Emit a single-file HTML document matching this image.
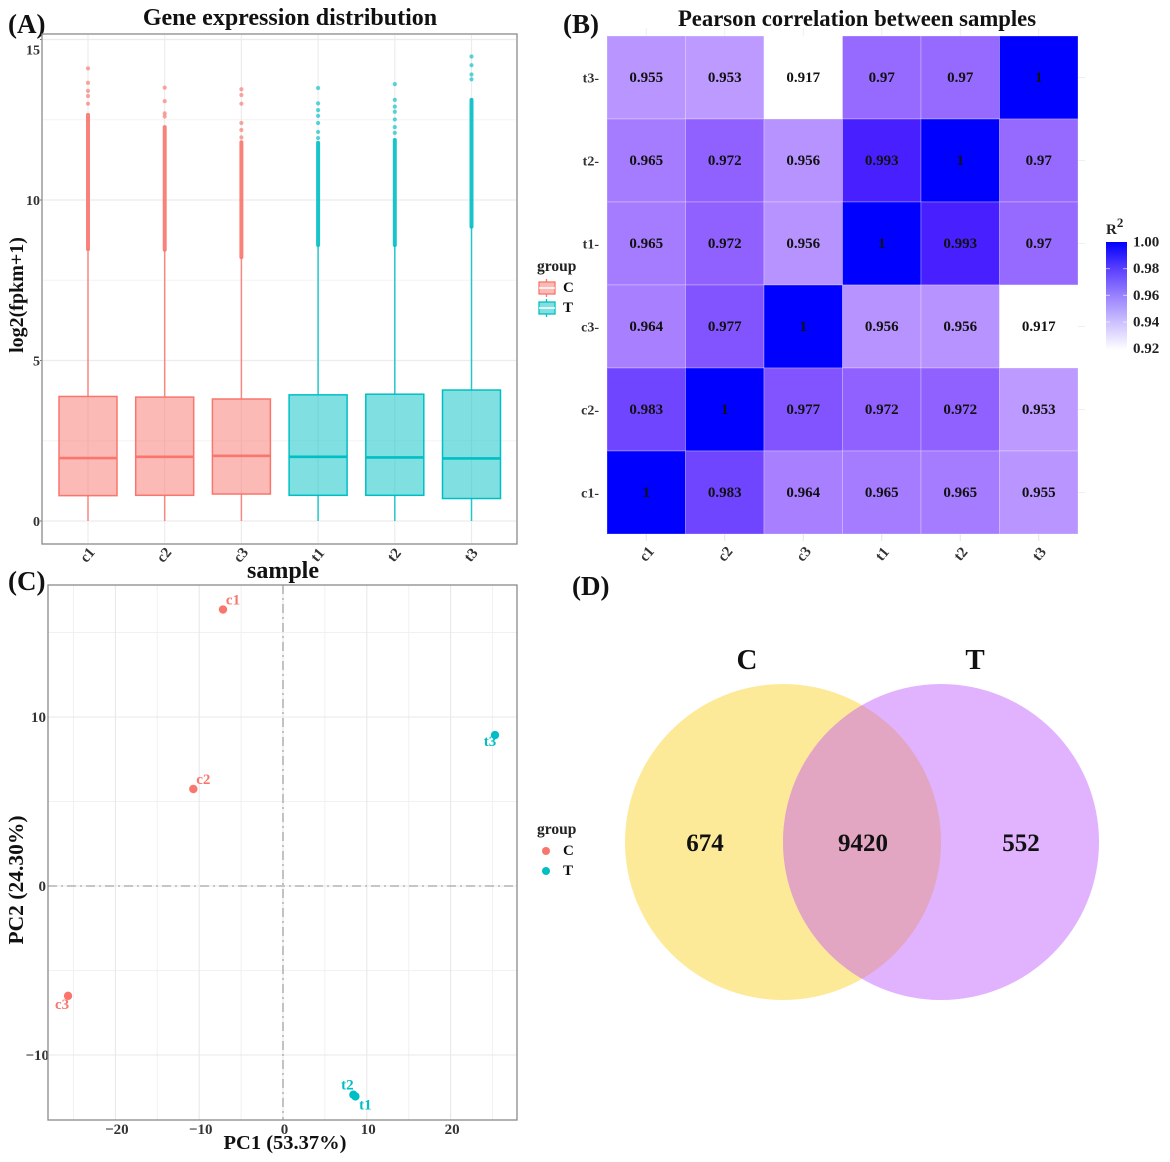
<!DOCTYPE html>
<html lang="en">
<head>
<meta charset="utf-8">
<title>Gene expression figure</title>
<style>
html,body{margin:0;padding:0;background:#fff;}
svg{display:block;font-family:"Liberation Serif",serif;font-weight:bold;filter:blur(.3px);}
</style>
</head>
<body>
<svg id="fig" xmlns="http://www.w3.org/2000/svg" width="1170" height="1162" viewBox="0 0 1170 1162">
  <rect x="0" y="0" width="1170" height="1162" fill="#fff"/>

  <text x="8" y="33" font-size="27" fill="#111">(A)</text>
  <text x="563" y="33" font-size="27" fill="#111">(B)</text>
  <text x="8" y="590" font-size="27" fill="#111">(C)</text>
  <text x="572" y="595" font-size="27" fill="#111">(D)</text>

  <text x="290" y="25" font-size="24" text-anchor="middle" fill="#111">Gene expression distribution</text>
  <text x="857" y="26" font-size="22.7" text-anchor="middle" fill="#111">Pearson correlation between samples</text>
  <text x="283" y="578" font-size="24" text-anchor="middle" fill="#111">sample</text>
  <text transform="translate(23,295) rotate(-90)" font-size="20" text-anchor="middle" fill="#111">log2(fpkm+1)</text>
  <text x="285" y="1149" font-size="20.5" text-anchor="middle" fill="#111">PC1 (53.37%)</text>
  <text transform="translate(23,880) rotate(-90)" font-size="21.5" text-anchor="middle" fill="#111">PC2 (24.30%)</text>

  <g id="panelA"></g>
  <g id="panelB"></g>
  <g id="panelC"></g>

  <g>
    <text x="537" y="271" font-size="15.5" fill="#222">group</text>
    <g>
      <line x1="546.5" x2="546.5" y1="279" y2="297" stroke="#F8766D" stroke-width="1.3"/>
      <rect x="539" y="282" width="16" height="12" fill="#FBBAB5" stroke="#F8766D" stroke-width="1.3"/>
      <line x1="539" x2="555" y1="288" y2="288" stroke="#fff" stroke-width="1.5"/>
      <text x="563" y="292" font-size="15" fill="#111">C</text>
    </g>
    <g>
      <line x1="546.5" x2="546.5" y1="299" y2="317" stroke="#00BFC4" stroke-width="1.3"/>
      <rect x="539" y="302" width="16" height="12" fill="#80DFE1" stroke="#00BFC4" stroke-width="1.3"/>
      <line x1="539" x2="555" y1="308" y2="308" stroke="#fff" stroke-width="1.5"/>
      <text x="563" y="312" font-size="15" fill="#111">T</text>
    </g>
  </g>

  <g>
    <text x="537" y="834" font-size="15.5" fill="#222">group</text>
    <g>
      <circle cx="546" cy="851" r="4" fill="#F8766D"/>
      <text x="563" y="855" font-size="15" fill="#111">C</text>
    </g>
    <g>
      <circle cx="546" cy="871" r="4" fill="#00BFC4"/>
      <text x="563" y="875" font-size="15" fill="#111">T</text>
    </g>
  </g>

  <g id="colorbar">
    <defs>
      <linearGradient id="barGrad" x1="0" x2="0" y1="0" y2="1">
        <stop offset="0" stop-color="#0000FF"/>
        <stop offset="0.25" stop-color="#5A40FF"/>
        <stop offset="0.5" stop-color="#9A82FF"/>
        <stop offset="0.75" stop-color="#CFC2FF"/>
        <stop offset="1" stop-color="#FFFFFF"/>
      </linearGradient>
    </defs>
    <text x="1106" y="234" font-size="15" fill="#222">R<tspan dy="-7" font-size="13">2</tspan></text>
  </g>

  <g>
    <defs>
      <clipPath id="vennClip"><circle cx="783" cy="842" r="158"/></clipPath>
    </defs>
    <circle cx="783" cy="842" r="158" fill="#FDEA98"/>
    <circle cx="941" cy="842" r="158" fill="#E1B2FD"/>
    <circle cx="941" cy="842" r="158" fill="#E2A6C2" clip-path="url(#vennClip)"/>
    <text x="747" y="669" font-size="29" text-anchor="middle" fill="#111">C</text>
    <text x="975" y="669" font-size="29" text-anchor="middle" fill="#111">T</text>
    <text x="705" y="851" font-size="25" text-anchor="middle" fill="#111">674</text>
    <text x="863" y="851" font-size="25" text-anchor="middle" fill="#111">9420</text>
    <text x="1021" y="851" font-size="25" text-anchor="middle" fill="#111">552</text>
  </g>
</svg>

<script>
// ---- Panel A data ----
const samples = ['c1', 'c2', 'c3', 't1', 't2', 't3'];
const sampleGroups = ['C', 'C', 'C', 'T', 'T', 'T'];
const boxQ1 = [0.79, 0.80, 0.84, 0.80, 0.80, 0.70];
const boxMedian = [1.96, 2.00, 2.03, 2.00, 1.98, 1.95];
const boxQ3 = [3.88, 3.86, 3.80, 3.93, 3.95, 4.08];
const whiskerLow = [0, 0, 0, 0, 0, 0];
const whiskerHigh = [8.47, 8.45, 8.22, 8.60, 8.60, 9.17];
const denseOutlierTop = [12.65, 12.27, 11.80, 11.78, 11.87, 13.12];
const sparseOutliers = [
  [13.00, 13.24, 13.40, 13.65, 14.10],
  [12.60, 12.70, 13.08, 13.50],
  [11.95, 12.18, 12.40, 13.00, 13.27, 13.45],
  [11.93, 12.12, 12.40, 12.62, 12.80, 13.01, 13.49],
  [12.09, 12.27, 12.51, 12.75, 12.91, 13.12, 13.61],
  [13.76, 13.91, 14.20, 14.47]
];
const boxYTicks = [0, 5, 10, 15];
const boxYMinor = [2.5, 7.5, 12.5];

// ---- Panel B data ----
const rowLabels = ['t3', 't2', 't1', 'c3', 'c2', 'c1'];
const colLabels = ['c1', 'c2', 'c3', 't1', 't2', 't3'];
const corrT3 = [0.955, 0.953, 0.917, 0.97, 0.97, 1];
const corrT2 = [0.965, 0.972, 0.956, 0.993, 1, 0.97];
const corrT1 = [0.965, 0.972, 0.956, 1, 0.993, 0.97];
const corrC3 = [0.964, 0.977, 1, 0.956, 0.956, 0.917];
const corrC2 = [0.983, 1, 0.977, 0.972, 0.972, 0.953];
const corrC1 = [1, 0.983, 0.964, 0.965, 0.965, 0.955];
const corrRows = [corrT3, corrT2, corrT1, corrC3, corrC2, corrC1];
const colorbarTicks = [1.00, 0.98, 0.96, 0.94, 0.92];

// ---- Panel C data ----
const pcaLabels = ['c1', 'c2', 'c3', 't1', 't2', 't3'];
const pcaPC1 = [-7.16, -10.7, -25.65, 8.64, 8.4, 25.3];
const pcaPC2 = [16.36, 5.74, -6.5, -12.45, -12.35, 8.93];
const pcaXTicks = [-20, -10, 0, 10, 20];
const pcaXMinor = [-25, -15, -5, 5, 15, 25];
const pcaYTicks = [-10, 0, 10];
const pcaYMinor = [-5, 5, 15];

// ---- Shared helpers ----
const NS = 'http://www.w3.org/2000/svg';
const RED = '#F8766D';
const TEAL = '#00BFC4';
function mk(tag, attrs, parent, text) {
  const el = document.createElementNS(NS, tag);
  for (const k in attrs) el.setAttribute(k, attrs[k]);
  if (text !== undefined) el.textContent = text;
  parent.appendChild(el);
  return el;
}
function groupColor(g) { return g === 'C' ? RED : TEAL; }

// ---- Panel A: boxplot ----
const boxY = v => 521 - v * 32.1;
const boxX = i => 88 + i * 76.7;
const BOX_HALF = 29;
const panelA = document.getElementById('panelA');

boxYMinor.forEach(v => {
  const el = mk('line', {x1: 43, x2: 516, y1: boxY(v), y2: boxY(v), stroke: '#f4f4f4', 'stroke-width': 1}, panelA);
  
  
});
boxYTicks.forEach(v => {
  const el = mk('line', {x1: 43, x2: 516, y1: boxY(v), y2: boxY(v), stroke: '#ececec', 'stroke-width': 1.2}, panelA);
  
  
  const tick = mk('line', {x1: 40, x2: 42, y1: boxY(v), y2: boxY(v), stroke: '#777', 'stroke-width': 1}, panelA);
  
  
  const labelY = v === 15 ? boxY(v) + 15 : boxY(v) + 5;
  const t = mk('text', {x: 40, y: labelY, 'font-size': 14, 'text-anchor': 'end', fill: '#333'}, panelA, String(v));
  
  
});
samples.forEach((s, i) => {
  const x = boxX(i);
  const color = groupColor(sampleGroups[i]);

  const grid = mk('line', {x1: x, x2: x, y1: 35, y2: 543, stroke: '#ececec', 'stroke-width': 1.2}, panelA);
  
  

  const whiskerUp = mk('line', {x1: x, x2: x, y1: boxY(whiskerHigh[i]), y2: boxY(boxQ3[i]), stroke: color, 'stroke-width': 1.5, 'stroke-opacity': 0.85}, panelA);
  
  

  const whiskerDown = mk('line', {x1: x, x2: x, y1: boxY(boxQ1[i]), y2: boxY(whiskerLow[i]), stroke: color, 'stroke-width': 1.5, 'stroke-opacity': 0.85}, panelA);
  
  

  const dense = mk('line', {x1: x, x2: x, y1: boxY(denseOutlierTop[i]), y2: boxY(whiskerHigh[i]), stroke: color, 'stroke-width': 4, 'stroke-linecap': 'round', 'stroke-opacity': 0.9}, panelA);
  
  

  sparseOutliers[i].forEach(v => {
    const p = mk('circle', {cx: x, cy: boxY(v), r: 2.1, fill: color, 'fill-opacity': 0.65}, panelA);
    
    
  });

  const box = mk('rect', {x: x - BOX_HALF, y: boxY(boxQ3[i]), width: BOX_HALF * 2, height: boxY(boxQ1[i]) - boxY(boxQ3[i]), fill: color, 'fill-opacity': 0.5, stroke: color, 'stroke-width': 1.5}, panelA);
  
  

  const med = mk('line', {x1: x - BOX_HALF, x2: x + BOX_HALF, y1: boxY(boxMedian[i]), y2: boxY(boxMedian[i]), stroke: color, 'stroke-width': 2.6}, panelA);
  
  

  const label = mk('text', {transform: 'translate(' + (x + 3) + ',558) rotate(-50)', 'font-size': 15, 'text-anchor': 'middle', fill: '#333'}, panelA, s);
  
  
});
const frameA = mk('rect', {x: 42, y: 34, width: 475, height: 510, fill: 'none', stroke: '#8a8a8a', 'stroke-width': 1.3}, panelA);



// ---- Panel B: heatmap ----
const colorValues = [0.917, 0.953, 0.965, 0.972, 0.983, 0.993, 1];
const colorStops = [[255, 255, 255], [189, 154, 255], [165, 124, 255], [144, 97, 255], [112, 69, 255], [72, 32, 255], [0, 0, 255]];
function heatColor(v) {
  let i = 0;
  if (v <= colorValues[0]) return 'rgb(255,255,255)';
  while (i < colorValues.length - 2 && v > colorValues[i + 1]) i++;
  const t = Math.min(1, (v - colorValues[i]) / (colorValues[i + 1] - colorValues[i]));
  const c = colorStops[i].map((a, k) => Math.round(a + (colorStops[i + 1][k] - a) * t));
  return 'rgb(' + c.join(',') + ')';
}
const heatX = i => 607 + i * 78.5;
const heatY = i => 36 + i * 83;
const panelB = document.getElementById('panelB');
colLabels.forEach((c, j) => {
  const cx = heatX(j) + 39.25;
  const stub = mk('line', {x1: cx, x2: cx, y1: 28, y2: 36, stroke: '#eeeeee', 'stroke-width': 1}, panelB);
  
  
  const tick = mk('line', {x1: cx, x2: cx, y1: 534, y2: 541, stroke: '#e4e4e4', 'stroke-width': 1}, panelB);
  
  
  const label = mk('text', {transform: 'translate(' + (cx + 4) + ',557) rotate(-50)', 'font-size': 15, 'text-anchor': 'middle', fill: '#333'}, panelB, c);
  
  
});
rowLabels.forEach((r, i) => {
  const cy = heatY(i) + 41.5;
  const stub = mk('line', {x1: 1078, x2: 1085, y1: cy, y2: cy, stroke: '#eeeeee', 'stroke-width': 1}, panelB);
  
  
  const label = mk('text', {x: 599, y: cy + 5, 'font-size': 14, 'text-anchor': 'end', fill: '#333'}, panelB, r + '-');
  
  
  corrRows[i].forEach((v, j) => {
    const cell = mk('rect', {x: heatX(j), y: heatY(i), width: 78.5, height: 83, fill: heatColor(v), stroke: 'rgba(255,255,255,0.28)', 'stroke-width': 1}, panelB);
    
    
  });
});
rowLabels.forEach((r, i) => {
  corrRows[i].forEach((v, j) => {
    const val = mk('text', {x: heatX(j) + 39.25, y: heatY(i) + 46, 'font-size': 15, 'text-anchor': 'middle', fill: '#111'}, panelB, String(v));
    
    
  });
});

// Colorbar
const colorbar = document.getElementById('colorbar');
const barY = v => 242 + (1 - v) / (1 - 0.919) * 108;
const bar = mk('rect', {x: 1106, y: 242, width: 21, height: 108, fill: 'url(#barGrad)'}, colorbar);


colorbarTicks.forEach(v => {
  const y = barY(v);
  if (v < 1 && v > 0.92) {
    const a = mk('line', {x1: 1106, x2: 1110, y1: y, y2: y, stroke: 'rgba(255,255,255,.6)', 'stroke-width': 1}, colorbar);
    
    
    const b = mk('line', {x1: 1123, x2: 1127, y1: y, y2: y, stroke: 'rgba(255,255,255,.6)', 'stroke-width': 1}, colorbar);
    
    
  }
  const t = mk('text', {x: 1133, y: y + 4.5, 'font-size': 15, fill: '#222'}, colorbar, v.toFixed(2));
  
  
});

// ---- Panel C: PCA ----
const pcaX = v => 283 + v * 8.38;
const pcaY = v => 886 - v * 16.9;
const panelC = document.getElementById('panelC');
pcaXMinor.forEach(v => {
  const el = mk('line', {x1: pcaX(v), x2: pcaX(v), y1: 585, y2: 1120, stroke: '#f1f1f1', 'stroke-width': 1}, panelC);
  
  
});
pcaYMinor.forEach(v => {
  const el = mk('line', {x1: 48, x2: 517, y1: pcaY(v), y2: pcaY(v), stroke: '#f1f1f1', 'stroke-width': 1}, panelC);
  
  
});
pcaXTicks.forEach(v => {
  const el = mk('line', {x1: pcaX(v), x2: pcaX(v), y1: 585, y2: 1120, stroke: '#e8e8e8', 'stroke-width': 1.1}, panelC);
  
  
  const t = mk('text', {x: pcaX(v) + 1.5, y: 1134, 'font-size': 15, 'text-anchor': 'middle', fill: '#333'}, panelC, v < 0 ? '\u2212' + Math.abs(v) : String(v));
  
  
});
pcaYTicks.forEach(v => {
  const el = mk('line', {x1: 48, x2: 517, y1: pcaY(v), y2: pcaY(v), stroke: '#e8e8e8', 'stroke-width': 1.1}, panelC);
  
  
  const t = mk('text', {x: v < 0 ? 49 : 46, y: pcaY(v) + 5, 'font-size': 15, 'text-anchor': 'end', fill: '#333'}, panelC, v < 0 ? '\u2212' + Math.abs(v) : String(v));
  
  
});
const zeroV = mk('line', {x1: pcaX(0), x2: pcaX(0), y1: 585, y2: 1120, stroke: '#b4b4b4', 'stroke-width': 1.6, 'stroke-dasharray': '9 4 2 4'}, panelC);


const zeroH = mk('line', {x1: 48, x2: 517, y1: pcaY(0), y2: pcaY(0), stroke: '#b4b4b4', 'stroke-width': 1.6, 'stroke-dasharray': '9 4 2 4'}, panelC);



const pcaLabelDx = [10, 10, -6, 10, -6, -5];
const pcaLabelDy = [-5, -5, 13, 13, -5, 11];
pcaLabels.forEach((s, i) => {
  const color = s[0] === 'c' ? RED : TEAL;
  const x = pcaX(pcaPC1[i]);
  const y = pcaY(pcaPC2[i]);
  const p = mk('circle', {cx: x, cy: y, r: 4.2, fill: color}, panelC);
  
  
  const t = mk('text', {x: x + pcaLabelDx[i], y: y + pcaLabelDy[i], 'font-size': 15, 'text-anchor': 'middle', fill: color}, panelC, s);
  
  
});
const frameC = mk('rect', {x: 48, y: 585, width: 469, height: 535, fill: 'none', stroke: '#8a8a8a', 'stroke-width': 1.3}, panelC);


</script>
</body>
</html>
